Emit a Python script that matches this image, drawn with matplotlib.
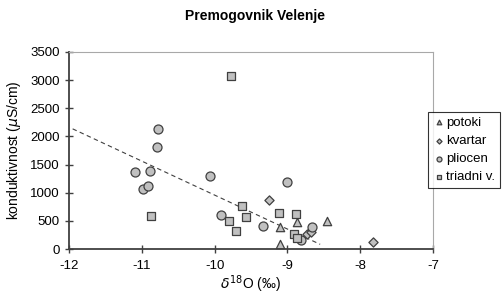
import matplotlib
matplotlib.use("Agg")
import matplotlib.pyplot as plt
import numpy as np

plt.rcParams["font.family"] = ["Liberation Sans", "DejaVu Sans"]

# measured values (d18O permil, conductivity uS/cm)
potoki_x = [-8.87, -9.10, -9.10, -8.46]
potoki_y = [486, 386, 84, 498]

kvartar_x = [-9.25, -8.73, -8.68, -7.83]
kvartar_y = [875, 262, 310, 125]

pliocen_x = [-10.78, -10.79, -11.09, -10.89, -10.99, -10.92, -10.07, -9.91,
             -9.34, -9.00, -8.81, -8.66]
pliocen_y = [2130, 1820, 1365, 1388, 1068, 1126, 1305, 605,
             404, 1185, 155, 397]

triadni_x = [-9.78, -10.88, -9.63, -9.80, -9.57, -9.70, -9.12, -8.88,
             -8.91, -8.87]
triadni_y = [3066, 593, 765, 498, 564, 326, 640, 617,
             261, 201]

# linear trend line (slope, intercept) and its x extent
trend_coef = [-603.5, -5077]
trend_range = [-11.95, -8.55]

x_ticks = [-12, -11, -10, -9, -8, -7]
y_ticks = [0, 500, 1000, 1500, 2000, 2500, 3000, 3500]

face = "#c0c0c0"
edge = "#404040"

fig = plt.figure(figsize=(5.04, 2.97), dpi=100)
ax = fig.add_axes([69 / 504, 1 - 249 / 297, (433 - 69) / 504, (249 - 52) / 297])

tx = np.array(trend_range)
ax.plot(tx, np.polyval(trend_coef, tx), ls=(0, (4, 3)), color="#404040", lw=0.8, zorder=1)

common = dict(facecolor=face, edgecolor=edge, linewidths=0.9, zorder=3)
ax.scatter(potoki_x, potoki_y, marker="^", s=36, label="potoki", **common)
ax.scatter(kvartar_x, kvartar_y, marker="D", s=22, label="kvartar", **common)
ax.scatter(pliocen_x, pliocen_y, marker="o", s=42, label="pliocen", **common)
ax.scatter(triadni_x, triadni_y, marker="s", s=40, label="triadni v.", **common)

ax.set_xlim(-12, -7)
ax.set_ylim(0, 3500)
ax.set_xticks(x_ticks)
ax.set_yticks(y_ticks)
ax.set_xticklabels([str(t) for t in x_ticks])

for s in ["left", "bottom"]:
    ax.spines[s].set_color("#404040")
    ax.spines[s].set_linewidth(1.3)
for s in ["top", "right"]:
    ax.spines[s].set_color("#a8a8a8")
    ax.spines[s].set_linewidth(0.8)
ax.tick_params(axis="both", direction="inout", length=6, width=1, color="#404040",
               labelsize=9.5, top=False, right=False)
ax.tick_params(axis="x", pad=5)

ax.set_xlabel(r"$\delta^{18}$O (‰)", fontsize=10, labelpad=1)
ax.set_ylabel(r"konduktivnost ($\mu$S/cm)", fontsize=10, labelpad=5)
fig.text(255 / 504, 1 - 16 / 297, "Premogovnik Velenje", ha="center", va="center",
         fontsize=10, fontweight="bold")

leg = fig.legend(loc="upper left", bbox_to_anchor=(428 / 504, 1 - 112 / 297),
                 frameon=True, fancybox=False, fontsize=9.5, markerscale=0.55,
                 handletextpad=0.15, handlelength=0.9, borderpad=0.35, labelspacing=0.45,
                 borderaxespad=0)
leg.get_frame().set_edgecolor("black")
leg.get_frame().set_linewidth(0.8)

fig.savefig("out.png", dpi=100)
